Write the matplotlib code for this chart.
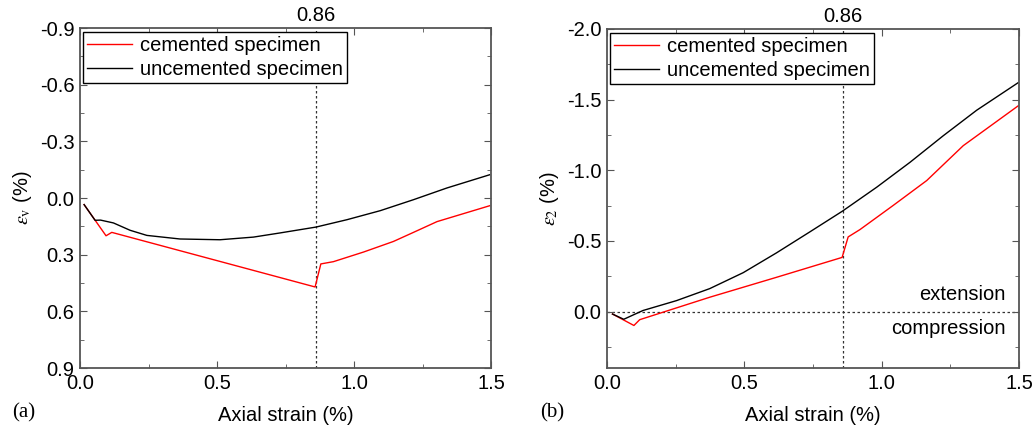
import numpy as np
import matplotlib
matplotlib.use("Agg")
import matplotlib.pyplot as plt
from matplotlib.ticker import MultipleLocator

plt.rcParams['font.family'] = ['Liberation Sans', 'DejaVu Sans']
plt.rcParams['mathtext.fontset'] = 'stix'

# volumetric strain (a)
ev_cem_x = [0.015, 0.095, 0.116, 0.858, 0.879, 0.925, 1.035, 1.144, 1.217, 1.303, 1.495]
ev_cem_y = [0.035, 0.200, 0.182, 0.471, 0.349, 0.337, 0.286, 0.230, 0.182, 0.125, 0.041]
ev_unc_x = [0.015, 0.055, 0.075, 0.122, 0.183, 0.244, 0.365, 0.511, 0.633, 0.730, 0.861,
            0.974, 1.096, 1.217, 1.339, 1.495]
ev_unc_y = [0.035, 0.118, 0.117, 0.132, 0.171, 0.198, 0.217, 0.221, 0.207, 0.185, 0.154,
            0.115, 0.067, 0.009, -0.053, -0.123]

# minor principal strain (b)
e2_cem_x = [0.02, 0.098, 0.119, 0.374, 0.617, 0.856, 0.878, 0.921, 1.042, 1.164,
            1.297, 1.497]
e2_cem_y = [0.018, 0.099, 0.058, -0.101, -0.242, -0.383, -0.528, -0.580, -0.751, -0.927,
            -1.174, -1.456]
e2_unc_x = [0.02, 0.061, 0.131, 0.253, 0.374, 0.496, 0.617, 0.738, 0.856, 0.982, 1.103,
            1.224, 1.346, 1.497]
e2_unc_y = [0.018, 0.055, -0.007, -0.077, -0.162, -0.275, -0.415, -0.563, -0.709, -0.880,
            -1.056, -1.244, -1.425, -1.620]

peak_strain = 0.86
legend_labels = ['cemented specimen', 'uncemented specimen']
fs = 14.5

fig = plt.figure(figsize=(10.35, 4.28), dpi=100)
axa = fig.add_axes([80 / 1035, 1 - 368 / 428, 411 / 1035, 340 / 428])
axb = fig.add_axes([607 / 1035, 1 - 368 / 428, 412 / 1035, 339 / 428])


def style(ax, ymaj, ymin):
    ax.set_xlim(0, 1.5)
    ax.xaxis.set_major_locator(MultipleLocator(0.5))
    ax.xaxis.set_minor_locator(MultipleLocator(0.25))
    ax.yaxis.set_major_locator(MultipleLocator(ymaj))
    ax.yaxis.set_minor_locator(MultipleLocator(ymin))
    ax.yaxis.set_major_formatter(plt.FuncFormatter(lambda v, p: f'{v:.1f}'))
    ax.tick_params(which='both', direction='in', top=True, right=True,
                   labelsize=fs, color='#555555')
    ax.tick_params(which='major', length=5, pad=4)
    ax.tick_params(which='minor', length=3)
    for s in ax.spines.values():
        s.set_color('#555555')
        s.set_linewidth(1.3)
    ax.set_xlabel('Axial strain (%)', fontsize=fs, labelpad=10)
    ax.axvline(peak_strain, color='#333333', ls=(0, (2, 2)), lw=0.9, zorder=1)
    ax.text(peak_strain, 1.008, '0.86', transform=ax.get_xaxis_transform(),
            ha='center', va='bottom', fontsize=fs)


def add_legend(ax, handles):
    ax.legend(handles, legend_labels, loc='upper left', fontsize=fs, frameon=True,
              fancybox=False, edgecolor='black', framealpha=1, borderpad=0.2,
              handlelength=2.2, handletextpad=0.4, labelspacing=0.25,
              borderaxespad=0, bbox_to_anchor=(0.008, 0.988))


# (a)
l1, = axa.plot(ev_cem_x, ev_cem_y, color='red', lw=1.0)
l2, = axa.plot(ev_unc_x, ev_unc_y, color='black', lw=1.0)
axa.set_ylim(0.9, -0.9)
style(axa, 0.3, 0.15)
axa.set_ylabel(r'$\varepsilon_{\mathrm{v}}$ (%)', fontsize=fs, labelpad=4)
add_legend(axa, [l1, l2])
fig.text(12 / 1035, 1 - 413 / 428, '(a)', family='Liberation Serif', fontsize=15,
         va='center', ha='left')

# (b)
m1, = axb.plot(e2_cem_x, e2_cem_y, color='red', lw=1.0)
m2, = axb.plot(e2_unc_x, e2_unc_y, color='black', lw=1.0)
axb.set_ylim(0.4, -2.0)
style(axb, 0.5, 0.25)
axb.axhline(0, color='#333333', ls=(0, (2, 2)), lw=0.9, zorder=1)
axb.set_ylabel(r'$\varepsilon_{2}$ (%)', fontsize=fs, labelpad=4)
add_legend(axb, [m1, m2])
axb.text(1.45, -0.05, 'extension', ha='right', va='bottom', fontsize=fs)
axb.text(1.45, 0.05, 'compression', ha='right', va='top', fontsize=fs)
fig.text(540 / 1035, 1 - 413 / 428, '(b)', family='Liberation Serif', fontsize=15,
         va='center', ha='left')

fig.savefig('out.png', dpi=100)
